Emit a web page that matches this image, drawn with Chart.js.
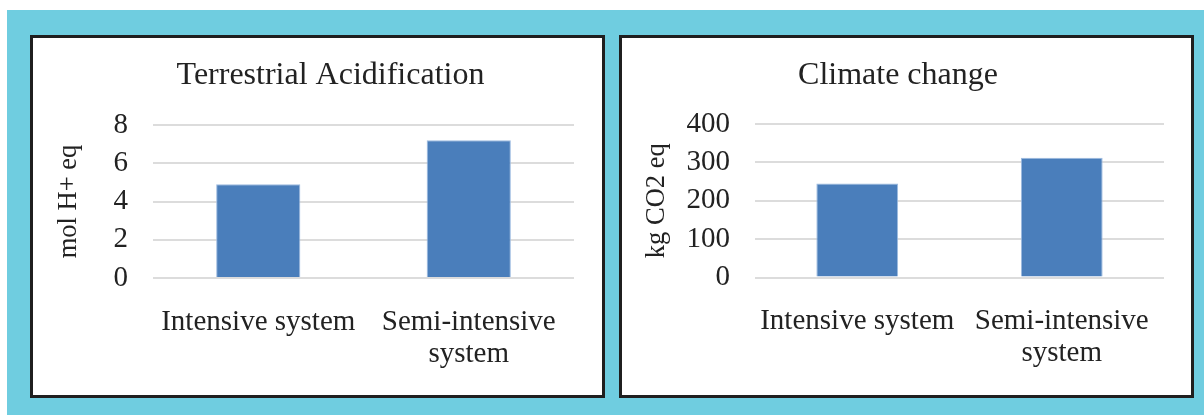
<!DOCTYPE html>
<html lang="en">
<head>
  <meta charset="UTF-8">
  <title>Terrestrial Acidification / Climate change</title>
  <script src="https://cdn.jsdelivr.net/npm/chart.js"></script>
  <style>
    body { margin: 0; background: #fff; width: 1204px; height: 415px; position: relative; overflow: hidden; }
    .latar { position: absolute; left: 7px; top: 10px; width: 1197px; height: 405px; background: #6fcde0; }
    .panel { position: absolute; top: 35px; width: 569px; height: 357px; border: 3px solid #1f1f1f; background: #fff; }
    .panel canvas { display: block; }
  </style>
</head>
<body>

<div class="latar"></div>
<div class="panel" style="left:30px;"><canvas id="grafikAsam" width="569" height="357"></canvas></div>
<div class="panel" style="left:619px;"><canvas id="grafikIklim" width="569" height="357"></canvas></div>

<script>
  // data
  const kategori = ['Intensive system', ['Semi-intensive', 'system']];
  const nilaiAsam = [4.9, 7.2];
  const nilaiIklim = [245, 312];
  const tickAsam = [0, 2, 4, 6, 8];
  const tickIklim = [0, 100, 200, 300, 400];

  const hurufSerif = 'Liberation Serif';
  const warnaTeks = '#222';

  function buatGrafik(id, judul, satuan, nilai, ticks, atur) {
    const ctx = document.getElementById(id).getContext('2d');
    return new Chart(ctx, {
      type: 'bar',
      data: {
        labels: kategori,
        datasets: [{
          data: nilai,
          backgroundColor: '#4a7ebb',
          borderColor: '#9dbbe0',
          borderWidth: 1,
          categoryPercentage: 1,
          barPercentage: 0.4
        }]
      },
      options: {
        responsive: false,
        animation: false,
        layout: { padding: { top: 18, bottom: atur.padBawah, left: atur.padKiri, right: atur.padKanan } },
        plugins: {
          legend: { display: false },
          tooltip: { enabled: false },
          title: {
            display: true,
            text: judul,
            color: warnaTeks,
            font: { family: hurufSerif, size: 32, weight: 'normal', lineHeight: 1.2 },
            padding: { top: 0, bottom: atur.padJudul }
          }
        },
        scales: {
          x: {
            afterFit: s => { s.height = 114; },
            grid: { display: false, drawTicks: false },
            border: { display: false },
            ticks: {
              color: warnaTeks,
              padding: 28,
              maxRotation: 0,
              autoSkip: false,
              font: { family: hurufSerif, size: 29, lineHeight: 32 / 29 }
            }
          },
          y: {
            min: ticks[0],
            max: ticks[ticks.length - 1],
            afterBuildTicks: s => { s.ticks = ticks.map(v => ({ value: v })); },
            afterFit: s => { s.width = atur.lebarY; },
            grid: { color: '#dcdcdc', lineWidth: 2, drawTicks: false },
            border: { display: false },
            ticks: {
              color: warnaTeks,
              padding: 25,
              font: { family: hurufSerif, size: 29, lineHeight: 30 / 29 }
            },
            title: {
              display: true,
              text: satuan,
              color: warnaTeks,
              font: { family: hurufSerif, size: 26.5, lineHeight: 1 },
              padding: { top: atur.padSatuan, bottom: 0 }
            }
          },
          // sumbu kosong di kanan, cuma buat geser judul
          kanan: {
            type: 'linear',
            position: 'right',
            afterFit: s => { s.width = atur.lebarKanan; },
            grid: { display: false, drawOnChartArea: false, drawTicks: false },
            border: { display: false },
            ticks: { display: false }
          }
        }
      }
    });
  }

  buatGrafik('grafikAsam', 'Terrestrial Acidification', 'mol H+ eq', nilaiAsam, tickAsam,
    { padKiri: 26, padKanan: 0, padBawah: 3, padJudul: 30.6, lebarY: 94, lebarKanan: 28, padSatuan: -3 });

  buatGrafik('grafikIklim', 'Climate change', 'kg CO2 eq', nilaiIklim, tickIklim,
    { padKiri: 0, padKanan: 17, padBawah: 3.5, padJudul: 29.6, lebarY: 133, lebarKanan: 10, padSatuan: 22 });
</script>

</body>
</html>
